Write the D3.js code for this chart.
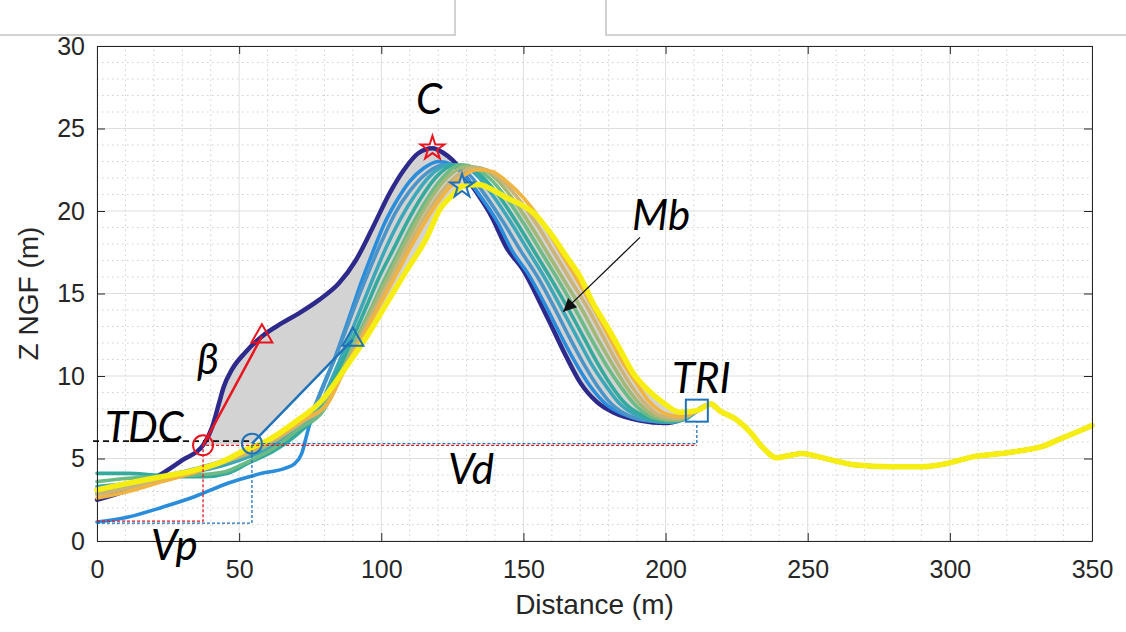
<!DOCTYPE html>
<html>
<head>
<meta charset="utf-8">
<script src="https://cdn.jsdelivr.net/npm/d3@7"></script>
<style>
	body { margin: 0; background: #fff; }
	svg { display: block; }
</style>
</head>
<body>
<svg id="chart" width="1126" height="632"></svg>
<script>

// axis ticks
var xTicks = [0, 50, 100, 150, 200, 250, 300, 350]
var yTicks = [0, 5, 10, 15, 20, 25, 30]

// profiles, [distance (m), Z NGF (m)], oldest first
var p1 = [[0,2.5],[11,3.1],[23,4.1],[30,4.9],[37.3,5.8],[40.5,6.9],[43,8.4],[44.5,9.3],[47.5,10.4],[52,11.4],[58,12.4],[65,13.2],[71,13.8],[78,14.6],[85,15.6],[91,17],[97,19],[103,21.1],[108,22.5],[113,23.5],[118,23.8],[122,23.5],[125,23.1],[132,21.5],[139,19.6],[144,17.8],[150,16.4],[156,14.4],[160.5,12.8],[165,11.2],[170,9.6],[176,8.4],[181.5,7.8],[191,7.3],[200,7.15],[206,7.4]]
var p2 = [[0,1.15],[11,1.45],[23,2.05],[34.5,2.7],[46,3.5],[58,4.1],[66,4.4],[69.6,4.7],[72,5.3],[74.2,6.7],[76.6,8.1],[80.2,9.7],[83.7,11.1],[87,12.7],[90,14.2],[93,15.7],[97,17.5],[101,19.2],[105,20.5],[110,21.8],[115,22.6],[120,23.0],[125,22.8],[129,22.2],[134,21.1],[141,19.3],[146,17.6],[152,16.1],[158,14.2],[163,12.5],[168,10.9],[173,9.5],[179,8.3],[185,7.7],[193,7.3],[201,7.2],[207,7.4]]
var p3 = [[0,2.9],[11,3.3],[23,3.9],[35,4.4],[45,4.9],[55,5.5],[63,6.0],[70,6.8],[76,8.0],[80,9.5],[84,11.2],[88,13.0],[92,14.8],[96,16.5],[100,18.1],[105,19.9],[110,21.2],[116,22.3],[122,22.8],[127,22.7],[131,22.2],[136,21.1],[143,19.3],[149,17.6],[155,16.0],[161,14.1],[166,12.4],[171,10.8],[176,9.4],[181,8.3],[187,7.6],[194,7.3],[201,7.2],[207,7.4]]
var p4 = [[0,3.3],[11,3.5],[23,3.8],[35,4.2],[45,4.6],[55,5.2],[64,5.9],[72,6.9],[78,8.0],[82,9.6],[86,11.2],[90,12.9],[94,14.6],[98,16.3],[102,17.9],[107,19.6],[112,21.0],[117,22.1],[124,22.8],[129,22.7],[134,22.1],[139,21.0],[146,19.2],[152,17.5],[158,15.8],[164,13.9],[169,12.3],[174,10.7],[179,9.4],[184,8.3],[190,7.6],[196,7.3],[202,7.2],[207,7.4]]
var p5 = [[0,4.1],[11,4.1],[20,4.0],[30,3.9],[38,3.9],[46,4.1],[53,4.7],[62.6,5.5],[72,6.7],[79,8.0],[83,9.6],[87,11.1],[91,12.7],[95,14.3],[99,15.9],[104,17.6],[109,19.3],[114,20.8],[119,22.0],[126,22.8],[131,22.7],[136,22.0],[141,21.0],[148,19.2],[154,17.5],[160,15.8],[166,14.0],[171,12.4],[176,10.8],[181,9.4],[186,8.3],[192,7.6],[197,7.3],[202,7.25],[207,7.4]]
var p6 = [[0,3.6],[11,3.8],[23,3.9],[35,4.0],[45,4.2],[53,4.8],[62,5.6],[71,6.8],[80,8.0],[84,9.5],[88,11.0],[92,12.5],[97,14.3],[101,15.8],[106,17.5],[111,19.2],[116,20.7],[121,21.9],[128,22.8],[133,22.6],[138,22.0],[144,20.8],[151,19.0],[157,17.3],[163,15.6],[169,13.8],[174,12.2],[179,10.7],[184,9.4],[189,8.3],[194,7.6],[199,7.35],[203,7.3],[207,7.45]]
var p7 = [[0,3.0],[11,3.4],[23,3.8],[35,4.3],[45,4.8],[55,5.4],[64,6.2],[72,7.2],[80,8.2],[85,9.9],[89,11.3],[93,12.7],[98,14.5],[103,16.2],[108,17.9],[113,19.5],[118,20.9],[123,22.0],[130,22.7],[135,22.6],[140,22.0],[146,20.8],[153,19.0],[159,17.3],[165,15.6],[171,13.9],[176,12.3],[181,10.8],[186,9.4],[191,8.3],[196,7.6],[200,7.4],[204,7.35],[207,7.5]]
var p8 = [[0,2.8],[11,3.2],[23,3.7],[35,4.2],[45,4.8],[55,5.5],[64,6.3],[73,7.3],[81,8.3],[86,10.0],[90,11.4],[95,13.1],[100,14.8],[105,16.4],[110,18.1],[115,19.6],[120,20.9],[125,21.9],[132,22.6],[137,22.5],[142,21.9],[148,20.8],[155,19.1],[161,17.4],[167,15.7],[173,14.0],[178,12.4],[183,10.8],[188,9.4],[193,8.3],[197,7.7],[201,7.5],[205,7.45],[208,7.6]]
var p9 = [[0,2.6],[11,3.0],[23,3.6],[35,4.2],[45,4.9],[55,5.6],[64,6.4],[73,7.4],[81,8.3],[86,10.0],[91,11.6],[96,13.2],[101,14.8],[106,16.4],[111,18.0],[116,19.5],[121,20.8],[127,21.9],[134,22.5],[139,22.4],[144,21.8],[150,20.8],[157,19.2],[163,17.5],[169,15.8],[175,14.0],[180,12.4],[185,10.8],[190,9.5],[194,8.5],[198,7.9],[202,7.6],[205,7.55],[208,7.65]]
var p10 = [[0,3.1],[11,3.5],[23,3.9],[34.5,4.3],[44,4.8],[52,5.5],[60,6.1],[69.6,7.2],[79,8.5],[87.8,10.6],[94.9,12.4],[101.9,14.4],[108.9,16.4],[116,18.4],[120.6,20.1],[125.3,21.0],[128.4,21.5],[134,21.6],[140,21.2],[144,20.8],[149,20.4],[153.4,19.9],[159.3,18.7],[165.3,17.2],[170,16.0],[174.5,14.4],[179.4,13.0],[184,11.6],[188.5,10.2],[193.5,9.2],[199,8.4],[205,7.8]]

// beach part shared by every survey
var tail = [[211,7.9],[216,8.3],[219,7.9],[225,7.35],[230,6.55],[234,5.7],[239,5.05],[244,5.2],[248,5.3],[254,5.1],[261,4.8],[267,4.6],[279,4.5],[290,4.5],[299,4.7],[308,5.1],[318,5.3],[326,5.5],[332,5.7],[339,6.2],[346,6.7],[350,7.0]]

var profiles = [p1, p2, p3, p4, p5, p6, p7, p8, p9, p10]
var profileColors = ["#2e2a8c", "#2a8ddc", "#4b94c8", "#3ba7b9", "#33aa9c", "#6cba86", "#a2b877", "#ccb378", "#f0b443", "#f6ee12"]

// morphological points, before (red) and after (blue)
var crest = [[118, 23.8], [128.4, 21.5]]
var slopeTop = [[58, 12.4], [90, 12.2]]
var duneFoot = [[37.3, 5.8], [54.5, 5.9]]
var triPoint = [211, 7.9]
var vpLevel = [1.2, 1.08]
var tdcLevel = 6.05

var svg = d3.select("#chart")

var x = d3.scaleLinear().domain([0, 350]).range([97, 1092])
var y = d3.scaleLinear().domain([0, 30]).range([541, 46])

var tickFont = "'Liberation Sans', Arial, sans-serif"
var noteFont = "Lato, 'Open Sans', 'DejaVu Sans', sans-serif"

// frame of the page the figure was cut from
svg.append("path")
	.attr("d", "M0,35H455V0M606,0V35H1126")
	.attr("fill", "none")
	.attr("stroke", "#d2d2d2")
	.attr("stroke-width", 2)

// grid
var minorX = d3.range(0, 351, 10).filter(d => d % 50)
var minorY = d3.range(0, 31, 1).filter(d => d % 5)

var grid = svg.append("g")
grid.selectAll(".mx").data(minorX).join("line")
	.attr("x1", d => x(d)).attr("x2", d => x(d))
	.attr("y1", y(0)).attr("y2", y(30))
grid.selectAll(".my").data(minorY).join("line")
	.attr("x1", x(0)).attr("x2", x(350))
	.attr("y1", d => y(d)).attr("y2", d => y(d))
grid.selectAll("line")
	.attr("stroke", "#cfcfcf")
	.attr("stroke-dasharray", "1.5,3.5")

var major = svg.append("g")
major.selectAll(".gx").data(xTicks).join("line")
	.attr("x1", d => x(d)).attr("x2", d => x(d))
	.attr("y1", y(0)).attr("y2", y(30))
major.selectAll(".gy").data(yTicks).join("line")
	.attr("x1", x(0)).attr("x2", x(350))
	.attr("y1", d => y(d)).attr("y2", d => y(d))
major.selectAll("line").attr("stroke", "#dedede")

// eroded area between first and last survey
var firstPart = p1.filter(d => d[0] >= duneFoot[0][0])
var lastPart = p10.filter(d => d[0] >= slopeTop[1][0]).reverse()
var lossArea = firstPart.concat(lastPart, [slopeTop[1], duneFoot[1]])

svg.append("path")
	.attr("d", "M" + lossArea.map(d => x(d[0]) + "," + y(d[1])).join("L") + "Z")
	.attr("fill", "#d3d3d3")

// profiles
var line = d3.line()
	.x(d => x(d[0]))
	.y(d => y(d[1]))
	.curve(d3.curveMonotoneX)

svg.append("g").selectAll("path")
	.data(profiles)
	.join("path")
	.attr("d", d => line(d.concat(tail)))
	.attr("fill", "none")
	.attr("stroke", (d, i) => profileColors[i])
	.attr("stroke-width", (d, i) => i == 9 ? 5.5 : i == 0 ? 4.5 : 3.6)
	.attr("stroke-linejoin", "round")
	.attr("stroke-linecap", "round")

// axes box
var box = svg.append("g")

box.append("g")
	.attr("transform", "translate(0," + y(0) + ")")
	.call(d3.axisBottom(x).tickValues(xTicks).tickSize(-8).tickSizeOuter(0).tickPadding(19))
box.append("g")
	.attr("transform", "translate(" + x(0) + ",0)")
	.call(d3.axisLeft(y).tickValues(yTicks).tickSize(-8).tickSizeOuter(0).tickPadding(12))
box.append("g")
	.attr("transform", "translate(0," + y(30) + ")")
	.call(d3.axisTop(x).tickValues(xTicks).tickSize(-8).tickSizeOuter(0).tickFormat(""))
box.append("g")
	.attr("transform", "translate(" + x(350) + ",0)")
	.call(d3.axisRight(y).tickValues(yTicks).tickSize(-8).tickSizeOuter(0).tickFormat(""))

box.selectAll(".domain, .tick line").attr("stroke", "#262626")
box.selectAll(".tick text")
	.attr("fill", "#262626")
	.style("font-family", tickFont)
	.style("font-size", "25px")

svg.append("text")
	.attr("x", (x(0) + x(350)) / 2)
	.attr("y", 614)
	.attr("text-anchor", "middle")
	.style("font-family", tickFont)
	.style("font-size", "28px")
	.attr("fill", "#262626")
	.text("Distance (m)")

svg.append("text")
	.attr("transform", "translate(38," + (y(0) + y(30)) / 2 + ") rotate(-90)")
	.attr("text-anchor", "middle")
	.style("font-family", tickFont)
	.style("font-size", "28px")
	.attr("fill", "#262626")
	.text("Z NGF (m)")

// reference lines for TDC, Vp and Vd
var ann = svg.append("g").attr("fill", "none").attr("stroke-width", 1.3)
var red = "#e8141e", blue = "#1f72b8"

ann.append("line")
	.attr("x1", x(0) - 4).attr("x2", x(duneFoot[1][0]))
	.attr("y1", y(tdcLevel)).attr("y2", y(tdcLevel))
	.attr("stroke", "#111").attr("stroke-width", 1.8).attr("stroke-dasharray", "6,4")

ann.append("path")
	.attr("d", "M" + x(0) + "," + y(vpLevel[0]) + "H" + x(duneFoot[0][0]) + "V" + y(duneFoot[0][1]) + "H" + x(triPoint[0]))
	.attr("stroke", red).attr("stroke-dasharray", "3,2")
ann.append("path")
	.attr("d", "M" + x(0) + "," + y(vpLevel[1]) + "H" + x(duneFoot[1][0]) + "V" + y(duneFoot[1][1]) + "H" + x(triPoint[0]) + "V" + y(triPoint[1] - 0.7))
	.attr("stroke", blue).attr("stroke-dasharray", "3,2")

// beta slopes
ann.append("line")
	.attr("x1", x(duneFoot[0][0])).attr("y1", y(duneFoot[0][1]))
	.attr("x2", x(slopeTop[0][0])).attr("y2", y(slopeTop[0][1]))
	.attr("stroke", red).attr("stroke-width", 2.5)
ann.append("line")
	.attr("x1", x(duneFoot[1][0])).attr("y1", y(duneFoot[1][1]))
	.attr("x2", x(slopeTop[1][0])).attr("y2", y(slopeTop[1][1]))
	.attr("stroke", blue).attr("stroke-width", 2.5)

// markers
var markColors = [red, blue]
var star = d3.symbol().type(d3.symbolStar).size(175)
var tri = d3.symbol().type(d3.symbolTriangle).size(190)

ann.selectAll(".crest").data(crest).join("path")
	.attr("transform", d => "translate(" + x(d[0]) + "," + y(d[1]) + ")")
	.attr("d", star)
	.attr("stroke", (d, i) => markColors[i]).attr("stroke-width", 2)
ann.selectAll(".top").data(slopeTop).join("path")
	.attr("transform", d => "translate(" + x(d[0]) + "," + y(d[1]) + ")")
	.attr("d", tri)
	.attr("stroke", (d, i) => markColors[i]).attr("stroke-width", 2)
ann.selectAll(".foot").data(duneFoot).join("circle")
	.attr("cx", d => x(d[0])).attr("cy", d => y(d[1]))
	.attr("r", 10)
	.attr("stroke", (d, i) => markColors[i]).attr("stroke-width", 2)
ann.append("rect")
	.attr("x", x(triPoint[0]) - 11).attr("y", y(triPoint[1]) - 11)
	.attr("width", 22).attr("height", 22)
	.attr("stroke", blue).attr("stroke-width", 2)

// Mb arrow
svg.append("defs").append("marker")
	.attr("id", "head")
	.attr("viewBox", "0 0 10 10")
	.attr("refX", 10).attr("refY", 5)
	.attr("markerWidth", 18).attr("markerHeight", 13)
	.attr("markerUnits", "userSpaceOnUse")
	.attr("orient", "auto")
	.append("path").attr("d", "M0,0L10,5L0,10Z").attr("fill", "#111")

svg.append("line")
	.attr("x1", x(191)).attr("y1", y(18.4))
	.attr("x2", x(164)).attr("y2", y(13.9))
	.attr("stroke", "#111").attr("stroke-width", 1.3)
	.attr("marker-end", "url(#head)")

// labels
var notes = [
	{ t: "C", x: 116.8, z: 25.9, a: "middle" },
	{ t: "Mb", x: 188.2, z: 18.85, a: "start" },
	{ t: "TRI", x: 202.3, z: 9.0, a: "start" },
	{ t: "TDC", x: 2.8, z: 6.0, a: "start" },
	{ t: "β", x: 35.2, z: 10.1, a: "start" },
	{ t: "Vd", x: 123.5, z: 3.45, a: "start" },
	{ t: "Vp", x: 19, z: -1.15, a: "start" }
]

svg.append("g").selectAll("text")
	.data(notes)
	.join("text")
	.attr("x", d => x(d.x))
	.attr("y", d => y(d.z))
	.attr("text-anchor", d => d.a)
	.style("font-family", noteFont)
	.style("font-style", "italic")
	.style("font-size", "42px")
	.attr("fill", "#000")
	.text(d => d.t)

</script>
</body>
</html>
